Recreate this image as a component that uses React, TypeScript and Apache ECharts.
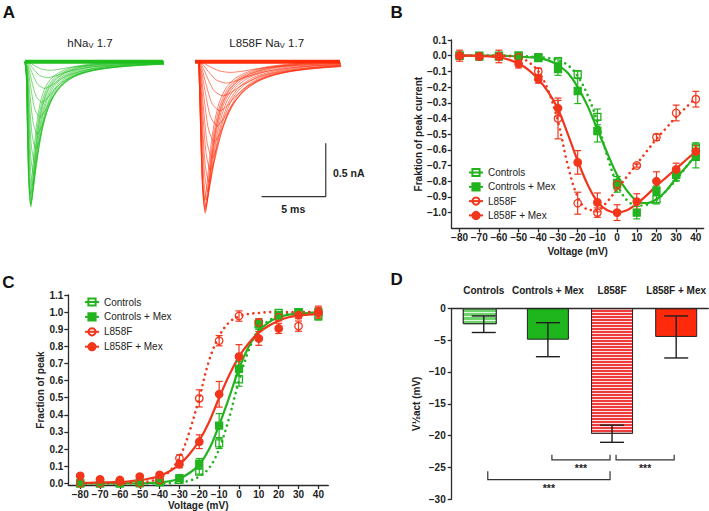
import React, { useEffect, useRef } from "react";
import * as echarts from "echarts";

// ---------- colours ----------
const GREEN = "#22b31f";
const RED = "#f2361c";
const TRACE_GREEN = "#1fbf1f";
const TRACE_RED = "#ff2d0a";
const AXIS = "#2b2b2b";
const FONT = "Liberation Sans, Arial, sans-serif";

// ---------- Panel A: current traces ----------
const traceShapeT = [0, 0.06, 0.15, 0.27, 0.42, 0.56, 0.75, 1.0, 1.35, 1.8, 2.4, 3.2, 4.3, 5.8, 7.5];
const traceShapeV = [0, -0.1, -0.45, -0.85, -1.0, -0.9, -0.68, -0.47, -0.3, -0.19, -0.12, -0.075, -0.04, -0.018, 0];
const greenAmps = [0.08, 0.15, 0.25, 0.38, 0.52, 0.68, 0.82, 0.95, 1.06, 1.16, 1.24, 1.3, 1.34, 1.36, 1.33, 1.25];
const greenScales = [4.5, 4.0, 3.5, 3.0, 2.6, 2.2, 1.9, 1.7, 1.5, 1.35, 1.2, 1.1, 1.0, 0.95, 0.9, 0.85];
const redAmps = [0.1, 0.2, 0.32, 0.46, 0.6, 0.75, 0.9, 1.02, 1.13, 1.22, 1.3, 1.36, 1.4, 1.42, 1.38, 1.3];
const redScales = [6.0, 5.2, 4.6, 4.0, 3.5, 3.0, 2.6, 2.3, 2.0, 1.8, 1.6, 1.45, 1.35, 1.3, 1.25, 1.2];
const greenSweepEnd = 10.7;
const redSweepEnd = 11.3;
const greenDelay = 0.05;
const redDelay = 0.25;
const scaleBarMs = 5;
const scaleBarNa = 0.5;

// ---------- Panel B: I-V ----------
const voltages = [-80, -70, -60, -50, -40, -30, -20, -10, 0, 10, 20, 30, 40];
const bControls = [0, 0, 0, 0, -0.015, -0.035, -0.12, -0.39, -0.81, null, -0.915, -0.76, -0.585];
const bControlsErr = [0.02, 0.02, 0.02, 0.015, 0.01, 0.015, 0.025, 0.05, 0.04, 0, 0.03, 0.04, 0.03];
const bControlsMex = [0, -0.005, -0.005, 0, -0.01, -0.085, -0.225, -0.48, -0.82, -1.0, -0.86, -0.755, -0.645];
const bControlsMexErr = [0.02, 0.02, 0.02, 0.015, 0.01, 0.04, 0.08, 0.07, 0.05, 0.04, 0.03, 0.04, 0.07];
const bL858F = [0, -0.005, -0.005, -0.01, -0.1, -0.4, -0.94, -1.0, -0.82, -0.7, -0.52, -0.365, -0.277];
const bL858FErr = [0.02, 0.02, 0.02, 0.02, 0.02, 0.13, 0.07, 0.03, 0.03, 0.01, 0.02, 0.05, 0.05];
const bL858FMex = [0, -0.005, -0.005, -0.053, -0.15, -0.335, -0.68, -0.935, -1.0, -0.93, -0.8, -0.725, -0.61];
const bL858FMexErr = [0.035, 0.02, 0.04, 0.025, 0.025, 0.05, 0.075, 0.06, 0.05, 0.05, 0.06, 0.04, 0.04];

const fitVoltages = [-80, -75, -70, -65, -60, -55, -50, -45, -40, -35, -30, -25, -20, -15, -10, -5, 0, 5, 10, 15, 20, 25, 30, 35, 40];
const bFitControls = [0, 0, 0, 0, 0, 0, -0.002, -0.005, -0.01, -0.015, -0.03, -0.06, -0.13, -0.25, -0.42, -0.64, -0.82, -0.92, -0.955, -0.95, -0.92, -0.86, -0.79, -0.71, -0.63];
const bFitControlsMex = [0, 0, 0, 0, 0, -0.002, -0.005, -0.01, -0.015, -0.03, -0.06, -0.11, -0.2, -0.32, -0.47, -0.62, -0.76, -0.86, -0.925, -0.94, -0.915, -0.86, -0.78, -0.71, -0.635];
const bFitL858F = [0, 0, 0, 0, 0, -0.003, -0.01, -0.04, -0.1, -0.22, -0.42, -0.7, -0.9, -0.98, -0.985, -0.93, -0.85, -0.77, -0.69, -0.61, -0.53, -0.46, -0.39, -0.33, -0.27];
const bFitL858FMex = [0, 0, -0.002, -0.005, -0.01, -0.025, -0.05, -0.09, -0.15, -0.23, -0.34, -0.5, -0.67, -0.82, -0.93, -0.985, -1.0, -0.985, -0.945, -0.89, -0.83, -0.775, -0.72, -0.665, -0.61];

// ---------- Panel C: activation ----------
const cControls = [0, 0, 0, 0, 0.01, 0.02, 0.068, 0.233, 0.607, 0.93, 0.995, 1.0, 0.975];
const cControlsErr = [0.005, 0.005, 0.005, 0.005, 0.01, 0.01, 0.015, 0.03, 0.04, 0.03, 0.01, 0.01, 0.02];
const cControlsMex = [0, 0, 0, 0.002, 0.005, 0.03, 0.115, 0.337, 0.67, 0.93, 0.98, 1.0, 1.0];
const cControlsMexErr = [0.005, 0.005, 0.005, 0.005, 0.005, 0.01, 0.03, 0.07, 0.04, 0.03, 0.01, 0.01, 0.02];
const cL858F = [0, 0, 0.01, 0, 0.02, 0.146, 0.496, 0.833, 0.977, 0.94, 0.97, 0.918, 0.996];
const cL858FErr = [0.005, 0.005, 0.005, 0.005, 0.01, 0.02, 0.05, 0.03, 0.03, 0.02, 0.02, 0.03, 0.03];
const cL858FMex = [0.043, 0.023, 0.019, 0.039, 0.049, 0.111, 0.243, 0.52, 0.74, 0.846, 0.905, 0.982, 1.0];
const cL858FMexErr = [0.005, 0.005, 0.005, 0.005, 0.01, 0.02, 0.04, 0.075, 0.07, 0.04, 0.03, 0.02, 0.035];

const cFitControls = [0, 0, 0, 0, 0, 0, 0, 0, 0, 0, 0.005, 0.015, 0.04, 0.09, 0.2, 0.38, 0.6, 0.78, 0.9, 0.95, 0.98, 0.99, 1.0, 1.0, 1.0];
const cFitControlsMex = [0, 0, 0, 0, 0, 0, 0, 0.002, 0.005, 0.012, 0.028, 0.06, 0.11, 0.2, 0.34, 0.5, 0.67, 0.8, 0.89, 0.94, 0.97, 0.985, 0.99, 0.995, 1.0];
const cFitL858F = [0, 0, 0, 0, 0, 0.002, 0.005, 0.012, 0.03, 0.07, 0.15, 0.3, 0.5, 0.72, 0.86, 0.94, 0.975, 0.99, 0.995, 1.0, 1.0, 1.0, 1.0, 1.0, 1.0];
const cFitL858FMex = [0.002, 0.003, 0.004, 0.006, 0.008, 0.012, 0.018, 0.028, 0.042, 0.07, 0.11, 0.17, 0.25, 0.36, 0.5, 0.63, 0.74, 0.82, 0.88, 0.92, 0.95, 0.97, 0.98, 0.985, 0.99];

// ---------- Panel D: V1/2 act ----------
const dCategories = ["Controls", "Controls + Mex", "L858F", "L858F + Mex"];
const dValues = [-2.5, -4.93, -19.7, -4.5];
const dErrors = [1.3, 2.67, 1.35, 3.3];
// brackets: [fromCategory, toCategory, level, tickTop]
const dBrackets = [
  [1, 2, -23.8, -23.0],
  [2, 3, -23.8, -23.0],
  [0, 2, -26.9, -25.6],
];
const dBracketLabels = ["***", "***", "***"];

// ---------- tick labels ----------
const voltageTicks = [-80, -70, -60, -50, -40, -30, -20, -10, 0, 10, 20, 30, 40];
const bYTicks = [-1.0, -0.9, -0.8, -0.7, -0.6, -0.5, -0.4, -0.3, -0.2, -0.1, 0.0, 0.1];
const cYTicks = [0.0, 0.1, 0.2, 0.3, 0.4, 0.5, 0.6, 0.7, 0.8, 0.9, 1.0, 1.1];

const minus = (s: string) => s.replace("-", "\u2212");

function buildTraces(amps: number[], scales: number[], delay: number, end: number, color: string, axis: number) {
  return amps.map((a, k) => {
    const pts: number[][] = [[0, 0]];
    traceShapeT.forEach((t, i) => pts.push([delay + t * scales[k], traceShapeV[i] * a]));
    if (pts[pts.length - 1][0] < end) pts.push([end, 0]);
    return {
      type: "line",
      xAxisIndex: axis,
      yAxisIndex: axis,
      data: pts,
      showSymbol: false,
      symbol: "none",
      smooth: 0.25,
      silent: true,
      lineStyle: { width: 0.6, color },
      z: 2,
    };
  });
}

function errSeries(axis: number, xs: any[], vals: (number | null)[], errs: number[], color: string, halfW: number, lw: number) {
  const data = xs
    .map((x, i) => (vals[i] == null || errs[i] === 0 ? null : [x, vals[i], errs[i]]))
    .filter((d) => d !== null);
  return {
    type: "custom",
    xAxisIndex: axis,
    yAxisIndex: axis,
    silent: true,
    z: 3,
    encode: { x: 0, y: 1 },
    data,
    renderItem: (params: any, api: any) => {
      const x = api.value(0);
      const y = api.value(1);
      const e = api.value(2);
      const a = api.coord([x, y + e]);
      const b = api.coord([x, y - e]);
      const st = { stroke: color, lineWidth: lw, fill: null };
      return {
        type: "group",
        children: [
          { type: "line", shape: { x1: a[0], y1: a[1], x2: b[0], y2: b[1] }, style: st },
          { type: "line", shape: { x1: a[0] - halfW, y1: a[1], x2: a[0] + halfW, y2: a[1] }, style: st },
          { type: "line", shape: { x1: b[0] - halfW, y1: b[1], x2: b[0] + halfW, y2: b[1] }, style: st },
        ],
      };
    },
  };
}

function pointSeries(name: string, axis: number, vals: (number | null)[], color: string, symbol: string, open: boolean) {
  return {
    type: "line",
    name,
    xAxisIndex: axis,
    yAxisIndex: axis,
    data: voltages.map((v, i) => [v, vals[i]]),
    connectNulls: false,
    symbol,
    symbolSize: symbol === "circle" ? 7.5 : 7,
    showAllSymbol: true,
    silent: true,
    itemStyle: {
      color: open ? "rgba(255,255,255,0)" : color,
      borderColor: color,
      borderWidth: 1.3,
    },
    lineStyle: { color, width: 2, opacity: 0 },
    z: 5,
  };
}

function fitSeries(axis: number, vals: number[], color: string, dotted: boolean) {
  return {
    type: "line",
    xAxisIndex: axis,
    yAxisIndex: axis,
    data: fitVoltages.map((v, i) => [v, vals[i]]),
    showSymbol: false,
    symbol: "none",
    smooth: 0.35,
    silent: true,
    lineStyle: dotted
      ? { color, width: 2.6, type: [0.01, 5.6], cap: "round" }
      : { color, width: 2.2 },
    z: 2,
  };
}

const axisLabelBase = { fontSize: 10, fontWeight: "bold", color: "#222", fontFamily: FONT };
const nameBase = { fontSize: 10, fontWeight: "bold", color: "#222", fontFamily: FONT };
const axisLineBase = { show: true, onZero: false, lineStyle: { color: AXIS, width: 1.3 } };
const tickBase = { show: true, length: 4, lineStyle: { color: AXIS, width: 1.3 } };

function voltageAxis(gridIndex: number, min: number, max: number, nameGap: number) {
  return {
    type: "value",
    gridIndex,
    min,
    max,
    axisLine: axisLineBase,
    axisTick: { ...tickBase, customValues: voltageTicks },
    axisLabel: { ...axisLabelBase, margin: 4, customValues: voltageTicks, formatter: (v: number) => minus(String(v)) },
    splitLine: { show: false },
    name: "Voltage (mV)",
    nameLocation: "middle",
    nameGap,
    nameTextStyle: nameBase,
  };
}

function fracAxis(gridIndex: number, min: number, max: number, ticks: number[], name: string, nameGap: number) {
  return {
    type: "value",
    gridIndex,
    min,
    max,
    axisLine: axisLineBase,
    axisTick: { ...tickBase, customValues: ticks },
    axisLabel: { ...axisLabelBase, margin: 5, customValues: ticks, formatter: (v: number) => minus(v.toFixed(1)) },
    splitLine: { show: false },
    name,
    nameLocation: "middle",
    nameGap,
    nameTextStyle: nameBase,
  };
}

const legendNames = ["Controls", "Controls + Mex", "L858F", "L858F + Mex"];

const barStyles: any[] = [
  { color: "#6dd36a", borderColor: "#2f3a2f", borderWidth: 1, decal: { symbol: "rect", symbolSize: 1, color: "rgba(255,255,255,0.8)", dashArrayX: [1, 0], dashArrayY: [1, 2.2], rotation: 0 } },
  { color: "#1fb51c", borderColor: "#222", borderWidth: 1 },
  { color: "#ee3b3b", borderColor: "#3a2222", borderWidth: 1, decal: { symbol: "rect", symbolSize: 1, color: "rgba(255,255,255,0.85)", dashArrayX: [1, 0], dashArrayY: [1, 2], rotation: 0 } },
  { color: "#ff2a0c", borderColor: "#222", borderWidth: 1 },
];

export default function App() {
  const ref = useRef<HTMLDivElement>(null);
  useEffect(() => {
    if (!ref.current) return;
    const chart = echarts.init(ref.current, undefined, { renderer: "svg" });
    const hiddenAxis = (gridIndex: number, min: number, max: number) => ({
      type: "value",
      gridIndex,
      min,
      max,
      show: false,
    });

    const series: any[] = [
      // Panel A
      {
        type: "line", xAxisIndex: 0, yAxisIndex: 0, silent: true, symbol: "none",
        data: [[0, 0], [greenSweepEnd, 0]], lineStyle: { width: 4, color: TRACE_GREEN }, z: 2,
      },
      {
        type: "line", xAxisIndex: 1, yAxisIndex: 1, silent: true, symbol: "none",
        data: [[0, 0], [redSweepEnd, 0]], lineStyle: { width: 4, color: TRACE_RED }, z: 2,
      },
      ...buildTraces(greenAmps, greenScales, greenDelay, greenSweepEnd, TRACE_GREEN, 0),
      ...buildTraces(redAmps, redScales, redDelay, redSweepEnd, TRACE_RED, 1),
      {
        type: "line", xAxisIndex: 1, yAxisIndex: 1, silent: true, symbol: "none",
        data: [
          [redSweepEnd - 1.11 - scaleBarMs, -1.264],
          [redSweepEnd - 1.11, -1.264],
          [redSweepEnd - 1.11, -1.264 + scaleBarNa],
        ],
        lineStyle: { width: 1.2, color: "#333" },
        z: 3,
      },
      // Panel B
      fitSeries(2, bFitControls, GREEN, true),
      fitSeries(2, bFitControlsMex, GREEN, false),
      fitSeries(2, bFitL858F, RED, true),
      fitSeries(2, bFitL858FMex, RED, false),
      errSeries(2, voltages, bControls, bControlsErr, GREEN, 3.5, 1.2),
      errSeries(2, voltages, bControlsMex, bControlsMexErr, GREEN, 3.5, 1.2),
      errSeries(2, voltages, bL858F, bL858FErr, RED, 3.5, 1.2),
      errSeries(2, voltages, bL858FMex, bL858FMexErr, RED, 3.5, 1.2),
      pointSeries("Controls", 2, bControls, GREEN, "rect", true),
      pointSeries("Controls + Mex", 2, bControlsMex, GREEN, "rect", false),
      pointSeries("L858F", 2, bL858F, RED, "circle", true),
      pointSeries("L858F + Mex", 2, bL858FMex, RED, "circle", false),
      // Panel C
      fitSeries(3, cFitControls, GREEN, true),
      fitSeries(3, cFitControlsMex, GREEN, false),
      fitSeries(3, cFitL858F, RED, true),
      fitSeries(3, cFitL858FMex, RED, false),
      errSeries(3, voltages, cControls, cControlsErr, GREEN, 3.5, 1.2),
      errSeries(3, voltages, cControlsMex, cControlsMexErr, GREEN, 3.5, 1.2),
      errSeries(3, voltages, cL858F, cL858FErr, RED, 3.5, 1.2),
      errSeries(3, voltages, cL858FMex, cL858FMexErr, RED, 3.5, 1.2),
      pointSeries("Controls", 3, cControls, GREEN, "rect", true),
      pointSeries("Controls + Mex", 3, cControlsMex, GREEN, "rect", false),
      pointSeries("L858F", 3, cL858F, RED, "circle", true),
      pointSeries("L858F + Mex", 3, cL858FMex, RED, "circle", false),
      // Panel D: narrower first bar, wider others (same category slots)
      {
        type: "bar",
        xAxisIndex: 4,
        yAxisIndex: 4,
        silent: true,
        barWidth: 34,
        barGap: "-100%",
        z: 2,
        data: dValues.map((v, i) => (i === 0 ? { value: v, itemStyle: barStyles[i] } : { value: null })),
      },
      {
        type: "bar",
        xAxisIndex: 4,
        yAxisIndex: 4,
        silent: true,
        barWidth: 42,
        barGap: "-100%",
        z: 2,
        data: dValues.map((v, i) => (i === 0 ? { value: null } : { value: v, itemStyle: barStyles[i] })),
      },
      errSeries(4, [0, 1, 2, 3], dValues, dErrors, "#1e1e1e", 12, 1.4),
      {
        type: "custom",
        xAxisIndex: 4,
        yAxisIndex: 4,
        silent: true,
        z: 4,
        encode: { x: 0, y: 2 },
        data: dBrackets,
        renderItem: (params: any, api: any) => {
          const from = api.value(0);
          const to = api.value(1);
          const level = api.value(2);
          const tick = api.value(3);
          const p0 = api.coord([from, level]);
          const p1 = api.coord([to, level]);
          const t0 = api.coord([from, tick]);
          const x0 = p0[0] + 4;
          const x1 = p1[0] - 2;
          return {
            type: "group",
            children: [
              {
                type: "polyline",
                shape: { points: [[x0, t0[1]], [x0, p0[1]], [x1, p1[1]], [x1, t0[1]]] },
                style: { stroke: "#333", lineWidth: 1.2, fill: null },
              },
              {
                type: "text",
                x: (x0 + x1) / 2,
                y: p0[1] + 8.5,
                style: {
                  text: dBracketLabels[params.dataIndex],
                  fontSize: 10.5,
                  fontWeight: "bold",
                  fontFamily: FONT,
                  fill: "#222",
                  align: "center",
                  verticalAlign: "middle",
                },
              },
            ],
          };
        },
      },
    ];

    const option: any = {
      animation: false,
      backgroundColor: "#ffffff",
      textStyle: { fontFamily: FONT },
      grid: [
        { left: 25, top: 56.4, width: 138.3, height: 160 },
        { left: 195, top: 56.4, width: 145, height: 160 },
        { left: 451.7, top: 40, width: 252, height: 188.3 },
        { left: 68.3, top: 295, width: 260, height: 190 },
        { left: 451.7, top: 308.3, width: 257, height: 191 },
      ],
      xAxis: [
        hiddenAxis(0, 0, greenSweepEnd),
        hiddenAxis(1, 0, redSweepEnd),
        voltageAxis(2, -84, 44, 18),
        voltageAxis(3, -86, 45, 15),
        {
          type: "category",
          gridIndex: 4,
          position: "top",
          data: dCategories,
          axisLine: { show: true, onZero: false, lineStyle: { color: AXIS, width: 1.3 } },
          axisTick: { show: false },
          axisLabel: { ...axisLabelBase, fontSize: 10, margin: 13, interval: 0 },
        },
      ],
      yAxis: [
        hiddenAxis(0, -1.45, 0.05),
        hiddenAxis(1, -1.45, 0.05),
        fracAxis(2, -1.1, 0.1, bYTicks, "Fraktion of peak current", 25),
        fracAxis(3, -0.01, 1.1, cYTicks, "Fraction of peak", 23),
        {
          type: "value",
          gridIndex: 4,
          min: -30,
          max: 0,
          interval: 5,
          axisLine: axisLineBase,
          axisTick: tickBase,
          axisLabel: { ...axisLabelBase, margin: 6, formatter: (v: number) => minus(String(v)) },
          splitLine: { show: false },
          name: "V\u00bdact (mV)",
          nameLocation: "middle",
          nameGap: 30,
          nameTextStyle: nameBase,
        },
      ],
      legend: [
        {
          data: legendNames,
          orient: "vertical",
          left: 463,
          top: 162.5,
          itemWidth: 14,
          itemHeight: 9,
          itemGap: 4.3,
          selectedMode: false,
          textStyle: { fontSize: 10, color: "#222", fontFamily: FONT },
          lineStyle: { width: 2, opacity: 1 },
        },
        {
          data: legendNames,
          orient: "vertical",
          left: 79,
          top: 292,
          itemWidth: 14,
          itemHeight: 9,
          itemGap: 4.9,
          selectedMode: false,
          textStyle: { fontSize: 10, color: "#222", fontFamily: FONT },
          lineStyle: { width: 2, opacity: 1 },
        },
      ],
      graphic: [
        { type: "text", x: 9, y: 12, style: { text: "A", font: `bold 17px ${FONT}`, fill: "#111", align: "center", verticalAlign: "middle" } },
        { type: "text", x: 396.7, y: 12, style: { text: "B", font: `bold 17px ${FONT}`, fill: "#111", align: "center", verticalAlign: "middle" } },
        { type: "text", x: 8.3, y: 282, style: { text: "C", font: `bold 17px ${FONT}`, fill: "#111", align: "center", verticalAlign: "middle" } },
        { type: "text", x: 396.7, y: 279, style: { text: "D", font: `bold 17px ${FONT}`, fill: "#111", align: "center", verticalAlign: "middle" } },
        {
          type: "text", x: 90, y: 43,
          style: {
            text: "{n|hNa}{s|V}{n| 1.7}", align: "center", verticalAlign: "middle", fill: "#222",
            rich: { n: { fontSize: 11.5, fontFamily: FONT, fill: "#222" }, s: { fontSize: 7.5, fontFamily: FONT, fill: "#222", padding: [5, 0, 0, 0] } },
          },
        },
        {
          type: "text", x: 266.7, y: 43,
          style: {
            text: "{n|L858F Na}{s|V}{n| 1.7}", align: "center", verticalAlign: "middle", fill: "#222",
            rich: { n: { fontSize: 11.5, fontFamily: FONT, fill: "#222" }, s: { fontSize: 7.5, fontFamily: FONT, fill: "#222", padding: [5, 0, 0, 0] } },
          },
        },
        { type: "text", x: 333, y: 173, style: { text: "0.5 nA", font: `bold 10.5px ${FONT}`, fill: "#222", align: "left", verticalAlign: "middle" } },
        { type: "text", x: 293.3, y: 208.5, style: { text: "5 ms", font: `bold 10.5px ${FONT}`, fill: "#222", align: "center", verticalAlign: "middle" } },
      ],
      series,
    };
    chart.setOption(option);
    return () => chart.dispose();
  }, []);
  return <div ref={ref} style={{ position: "fixed", left: 0, top: 0, width: 709, height: 511, background: "#fff" }} />;
}
